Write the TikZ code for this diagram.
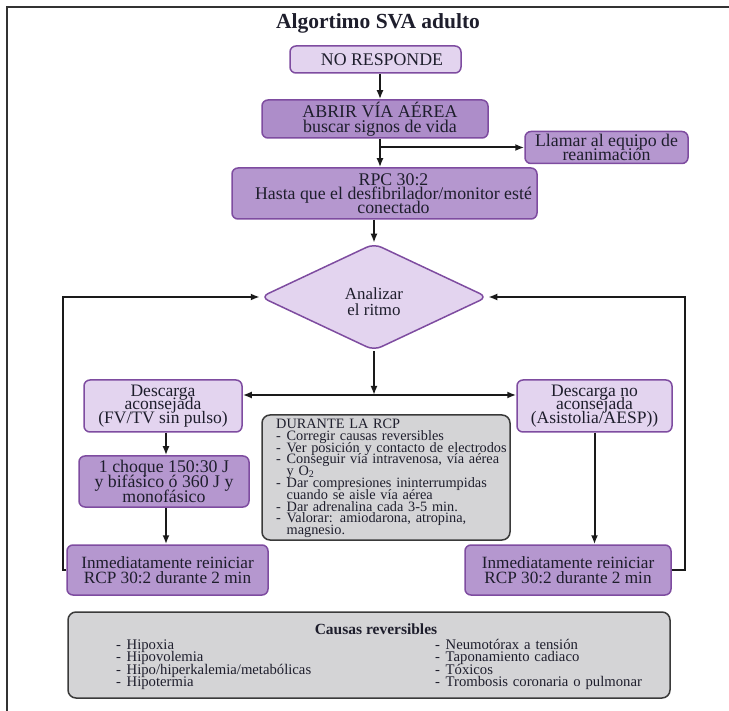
\documentclass[tikz,border=0pt]{standalone}
\usepackage{fontspec}
\setmainfont{Liberation Serif}
\usetikzlibrary{shapes.geometric,arrows.meta}
\definecolor{lightp}{HTML}{E3D4EF}
\definecolor{midp}{HTML}{B597CF}
\definecolor{darkp}{HTML}{AD8DC9}
\definecolor{bord}{HTML}{7E4CA0}
\definecolor{grayf}{HTML}{D4D4D6}
\definecolor{gbord}{HTML}{3A3A3A}
\definecolor{txt}{HTML}{1E1E2C}
\definecolor{arrc}{HTML}{1A1A1A}
\definecolor{framec}{HTML}{333333}
\newcommand{\fz}[2]{\fontsize{#1}{#2}\selectfont\lineskiplimit=-50pt\relax}
\newcommand{\dd}{\makebox[10.5pt][l]{-}}
\newcommand{\ind}{\hspace*{10.5pt}}
\tikzset{
  box/.style={draw=bord, line width=1.5pt, rounded corners=6pt, align=center, inner sep=0pt, text=txt, font=\fz{17.8}{14.5}},
  lbox/.style={box, fill=lightp},
  mbox/.style={box, fill=midp},
  gbox/.style={draw=gbord, line width=1.5pt, rounded corners=8pt, fill=grayf, inner sep=0pt},
  listtext/.style={anchor=base west, inner sep=0pt, text=txt, align=left},
  arr/.style={-{Latex[length=9pt,width=7pt]}, line width=2pt, draw=arrc},
}
\begin{document}
\lineskiplimit=-50pt
\begin{tikzpicture}[x=1pt,y=-1pt]
\useasboundingbox (0,0) rectangle (729,711);
% frame
\draw[line width=1.5pt, draw=framec] (7,711) -- (7,7) -- (729,7);
% title
\node[anchor=base, font=\bfseries\fontsize{21.5}{24}\selectfont, text=txt] (title) at (378,29) {Algortimo SVA adulto};
% boxes
\node[lbox, minimum width=171, minimum height=27] (nr) at (375.5,59.5) {\hspace*{13pt}NO RESPONDE};
\node[box, fill=darkp, minimum width=226, minimum height=38, font=\fz{17.9}{15}] (abrir) at (375,119) {\hspace*{10pt}ABRIR VÍA AÉREA\\\hspace*{10pt}buscar signos de vida};
\node[mbox, minimum width=163, minimum height=32] (llamar) at (606.5,147.5) {Llamar al equipo de\\reanimación};
\node[mbox, minimum width=305, minimum height=51, font=\fz{17.8}{14}] (rpc) at (384.5,193.5) {\hspace*{18pt}RPC 30:2\\\hspace*{18pt}Hasta que el desfibrilador/monitor esté\\\hspace*{18pt}conectado};
\node[diamond, draw=bord, fill=lightp, line width=1.5pt, rounded corners=8pt, minimum width=227, minimum height=107, inner sep=0pt, align=center, text=txt, font=\fz{16.9}{16}] (dia) at (374,297) {\rule{0pt}{22pt}Analizar\\el ritmo};
\node[lbox, minimum width=158, minimum height=52, font=\fz{17.5}{13.5}] (da) at (163,406) {Descarga\\aconsejada\\(FV/TV sin pulso)};
\node[lbox, minimum width=155, minimum height=52, font=\fz{17.5}{13.5}] (dn) at (594.5,406) {Descarga no\\aconsejada\\(Asistolia/AESP))};
\node[mbox, minimum width=170, minimum height=51, font=\fz{17.8}{15}] (choque) at (164,481.5) {1 choque 150:30 J\\y bifásico ó 360 J y\\monofásico};
\node[mbox, minimum width=201, minimum height=50, font=\fz{17.2}{15.5}] (inm1) at (167.5,570) {Inmediatamente reiniciar\\RCP 30:2 durante 2 min};
\node[mbox, minimum width=206, minimum height=50, font=\fz{17.2}{15.5}] (inm2) at (568,570) {Inmediatamente reiniciar\\RCP 30:2 durante 2 min};
% gray box durante
\node[gbox, minimum width=248, minimum height=125] (dur) at (386,477.5) {};
\node[listtext, text width=235pt, font=\fz{14.3}{11.8}] (durt) at (276,428.5) {DURANTE LA RCP\\
\dd Corregir causas reversibles\\
\dd Ver posición y contacto de electrodos\\
\dd Conseguir vía intravenosa, vía aérea\\
\ind y O\textsubscript{2}\\
\dd Dar compresiones ininterrumpidas\\
\ind cuando se aisle vía aérea\\
\dd Dar adrenalina cada 3-5 min.\\
\dd Valorar: amiodarona, atropina,\\
\ind magnesio.};
% gray box causas
\node[gbox, minimum width=602, minimum height=86] (causas) at (369,655) {};
\node[anchor=base, font=\bfseries\fontsize{15.5}{16}\selectfont, text=txt] (ct) at (376,634) {Causas reversibles};
\node[listtext, text width=250pt, font=\fz{14.7}{12.6}] (cl) at (116,649) {\dd Hipoxia\\
\dd Hipovolemia\\
\dd Hipo/hiperkalemia/metabólicas\\
\dd Hipotermia};
\node[listtext, text width=250pt, font=\fz{14.7}{12.6}] (cr) at (435,649) {\dd Neumotórax a tensión\\
\dd Taponamiento cadiaco\\
\dd Tóxicos\\
\dd Trombosis coronaria o pulmonar};
% connectors
\coordinate (cx) at (380,0);
\coordinate (cl1) at (166,0);
\coordinate (j) at (374,395);
\coordinate (lL) at (63,0);
\coordinate (lR) at (685,0);
\draw[arr] (nr.south -| cx) -- (abrir.north -| cx);
\draw[arr] (abrir.south -| cx) -- (rpc.north -| cx);
\draw[arr] (cx |- llamar.west) -- (llamar.west);
\draw[arr] (rpc.south -| dia.north) -- (dia.north);
\draw[arr] (dia.south) -- (j);
\draw[arr] (j) -- (j -| da.east);
\draw[arr] (j) -- (j -| dn.west);
\draw[arr] (da.south -| cl1) -- (choque.north -| cl1);
\draw[arr] (choque.south -| cl1) -- (inm1.north -| cl1);
\draw[arr] (dn.south) -- (dn.south |- inm2.north);
\draw[arr] (inm1.west) -- (inm1.west -| lL) -- (lL |- dia.west) -- (dia.west);
\draw[arr] (inm2.east) -- (inm2.east -| lR) -- (lR |- dia.east) -- (dia.east);
\end{tikzpicture}
\end{document}
